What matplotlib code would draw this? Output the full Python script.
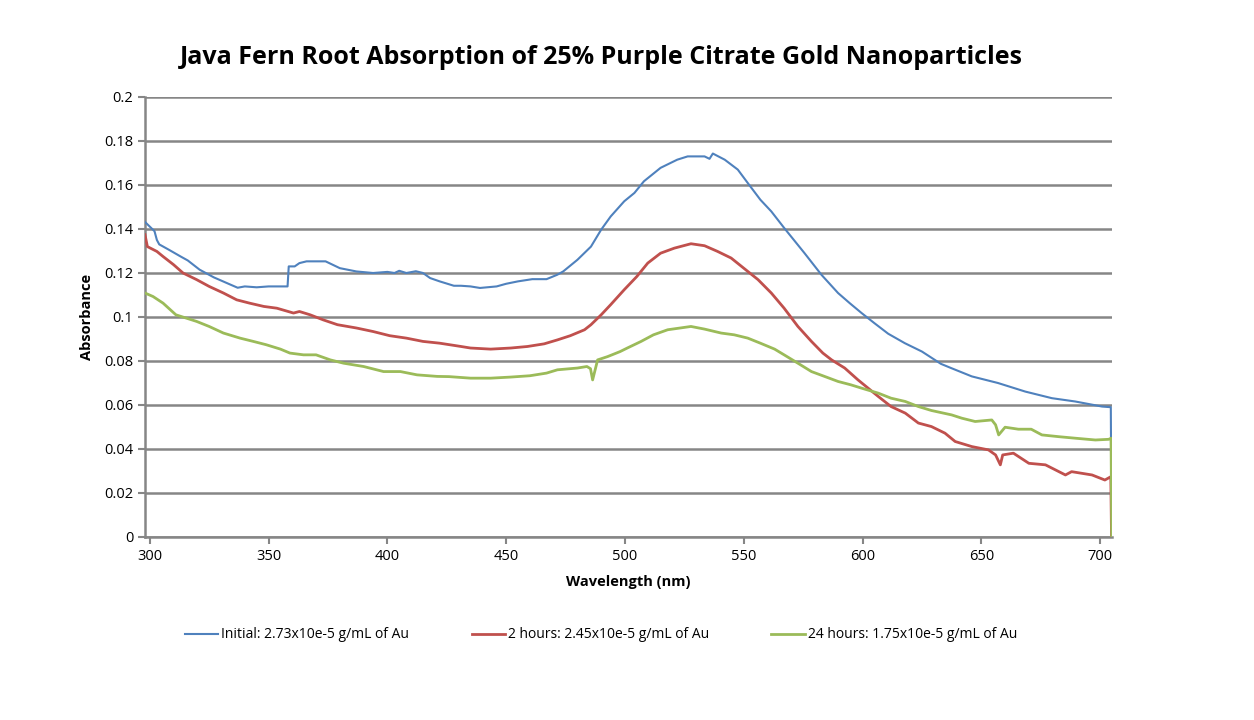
import matplotlib.pyplot as plt
import numpy as np

# wavelength (nm) / absorbance pairs
initial_nm = [298, 302, 303, 304, 308, 313, 316, 321, 327, 334, 337, 340, 345, 350, 355, 358,
              358.5, 361, 363, 366, 374, 380, 387, 394, 400, 403, 405, 408, 412, 415, 418, 422,
              428, 431, 435, 439, 446, 450, 455, 461, 467, 471.5, 474, 480, 485.7, 490, 494,
              499.7, 504, 508, 515, 522, 526.4, 533.5, 535.6, 537, 542, 547.5, 551.7, 557,
              561.6, 567, 575.6, 582.7, 589.7, 594.6, 599.6, 605, 610.8, 617.8, 625, 633,
              637.5, 646, 657, 668.5, 679.7, 689.5, 700.8, 704.5, 704.8]
initial_abs = [0.1432, 0.139, 0.135, 0.133, 0.1306, 0.1275, 0.1257, 0.1215, 0.118, 0.1147,
               0.1133, 0.1139, 0.1135, 0.1139, 0.1139, 0.1139, 0.1230, 0.123, 0.1245, 0.1253,
               0.1253, 0.1222, 0.1207, 0.12, 0.1205, 0.12, 0.121, 0.12, 0.1208, 0.12, 0.1177,
               0.1162, 0.1142, 0.1142, 0.1139, 0.1132, 0.1139, 0.1151, 0.1162, 0.1172, 0.1172,
               0.1192, 0.1207, 0.126, 0.132, 0.1397, 0.1457, 0.1526, 0.1564, 0.1617, 0.1678,
               0.1715, 0.173, 0.173, 0.1719, 0.1743, 0.1715, 0.167, 0.1609, 0.1533, 0.148,
               0.1405, 0.129, 0.1192, 0.1109, 0.1063, 0.1018, 0.0972, 0.0924, 0.0881, 0.0843,
               0.0787, 0.0767, 0.073, 0.070, 0.0661, 0.0631, 0.0616, 0.0593, 0.059, 0.0]

h2_nm = [298, 299, 303, 305.6, 310, 314, 319.7, 325, 331, 336.6, 342, 348, 353.5, 360.5, 363,
         367.5, 373, 379, 387, 394, 401, 408, 415, 422, 431, 435, 443.5, 452, 459, 466, 471.6,
         477, 483, 485.7, 490, 494, 499.7, 505, 509.6, 515, 520.8, 527.8, 533.5, 539, 544.7,
         550, 556, 561.6, 567, 572.8, 578.5, 583.3, 587, 592.5, 598, 606.6, 612, 618, 623.5,
         629, 634.7, 639, 646, 653, 656, 658, 659, 663.5, 670, 677, 685.4, 688, 696.6, 702,
         704.5, 704.8]
h2_abs = [0.1374, 0.132, 0.1298, 0.1275, 0.1238, 0.12, 0.117, 0.1139, 0.1109, 0.1078, 0.1063,
          0.1048, 0.104, 0.1018, 0.1025, 0.101, 0.0987, 0.0965, 0.095, 0.0934, 0.0915, 0.0904,
          0.0889, 0.0881, 0.0866, 0.0859, 0.0854, 0.0859, 0.0866, 0.0878, 0.0896, 0.0915,
          0.0942, 0.0965, 0.101, 0.1056, 0.1124, 0.1184, 0.1245, 0.129, 0.1313, 0.1333,
          0.1324, 0.1298, 0.1268, 0.1222, 0.117, 0.1109, 0.104, 0.0957, 0.0889, 0.0836,
          0.0805, 0.0768, 0.0715, 0.0639, 0.0593, 0.0563, 0.0518, 0.0502, 0.0472, 0.0434,
          0.0411, 0.0396, 0.0373, 0.0328, 0.0373, 0.0381, 0.0335, 0.0328, 0.0282, 0.0297,
          0.0282, 0.0259, 0.0274, 0.0]

h24_nm = [298, 301.4, 305.6, 311, 319.7, 325, 331, 338, 343.6, 349, 355, 359, 364.7, 370, 376,
          381.6, 390, 398.4, 405.5, 412.5, 421, 426, 435, 443.5, 452, 460, 467, 471.6, 480,
          484, 485.5, 486.4, 488.5, 492.7, 498, 501, 506.8, 512, 518, 527.8, 533.5, 540.5,
          546, 551.7, 557, 563, 567, 572.8, 578.5, 584, 589.7, 595, 601, 606.6, 612, 618,
          623.5, 629, 637.5, 641.8, 647.4, 654.4, 656, 657.3, 660, 665.6, 671, 675.5, 682.6,
          689.6, 698, 703.6, 704.6, 704.9]
h24_abs = [0.1109, 0.1093, 0.1063, 0.101, 0.098, 0.0957, 0.0927, 0.0904, 0.0889, 0.0874,
           0.0854, 0.0836, 0.0828, 0.0828, 0.0805, 0.079, 0.0775, 0.0752, 0.0752, 0.0737,
           0.073, 0.0729, 0.0722, 0.0722, 0.0727, 0.0733, 0.0745, 0.076, 0.0768, 0.0775,
           0.0765, 0.0714, 0.0805, 0.082, 0.0843, 0.0859, 0.0889, 0.0919, 0.0942, 0.0957,
           0.0945, 0.0927, 0.0919, 0.0904, 0.0881, 0.0854, 0.0828, 0.079, 0.0752, 0.073,
           0.0707, 0.0692, 0.0672, 0.0654, 0.0631, 0.0616, 0.0593, 0.0575, 0.0555, 0.054,
           0.0525, 0.0532, 0.051, 0.0464, 0.0499, 0.049, 0.049, 0.0464, 0.0456, 0.0449,
           0.0441, 0.0444, 0.0449, 0.0]

labels = ['Initial: 2.73x10e-5 g/mL of Au',
          '2 hours: 2.45x10e-5 g/mL of Au',
          '24 hours: 1.75x10e-5 g/mL of Au']
colors = ['#4F81BD', '#C0504D', '#9BBB59']
x_ticks = [300, 350, 400, 450, 500, 550, 600, 650, 700]
y_ticks = [0, 0.02, 0.04, 0.06, 0.08, 0.1, 0.12, 0.14, 0.16, 0.18, 0.2]

plt.rcParams['font.family'] = ['Open Sans', 'DejaVu Sans']

fig = plt.figure(figsize=(12.54, 7.2), dpi=100)
ax = fig.add_axes([145 / 1254, 1 - 537 / 720, (1112 - 145) / 1254, (537 - 97) / 720])

series = [(initial_nm, initial_abs, 1.5), (h2_nm, h2_abs, 2.0), (h24_nm, h24_abs, 2.0)]
for (xs, ys, lw), lab, c in zip(series, labels, colors):
    ax.plot(xs, ys, color=c, lw=lw, label=lab, zorder=3)

ax.set_xlim(298, 705)
ax.set_ylim(0, 0.2)
ax.set_xticks(x_ticks)
ax.set_yticks(y_ticks)
ax.set_yticklabels(['0' if v == 0 else ('%g' % v) for v in y_ticks])
ax.grid(axis='y', color='#868686', lw=1.8)
ax.set_axisbelow(True)
for s in ['top', 'right']:
    ax.spines[s].set_visible(False)
for s in ['left', 'bottom']:
    ax.spines[s].set_color('#868686')
    ax.spines[s].set_linewidth(1.8)
ax.tick_params(colors='#868686', width=1.5, length=5, labelcolor='black', labelsize=10.5)

ax.set_xlabel('Wavelength (nm)', fontsize=10.5, fontweight='bold', labelpad=8)
ax.set_ylabel('Absorbance', fontsize=10.5, fontweight='bold', labelpad=7)

fig.text(601 / 1254, 1 - 57 / 720, 'Java Fern Root Absorption of 25% Purple Citrate Gold Nanoparticles',
         ha='center', va='center', fontsize=18, fontweight='bold')

fig.legend(loc='center', bbox_to_anchor=(601 / 1254, 1 - 635 / 720), ncol=3, frameon=False,
           fontsize=10, handlelength=2.4, columnspacing=4.5, handletextpad=0.2)

fig.savefig('out.png', dpi=100)
